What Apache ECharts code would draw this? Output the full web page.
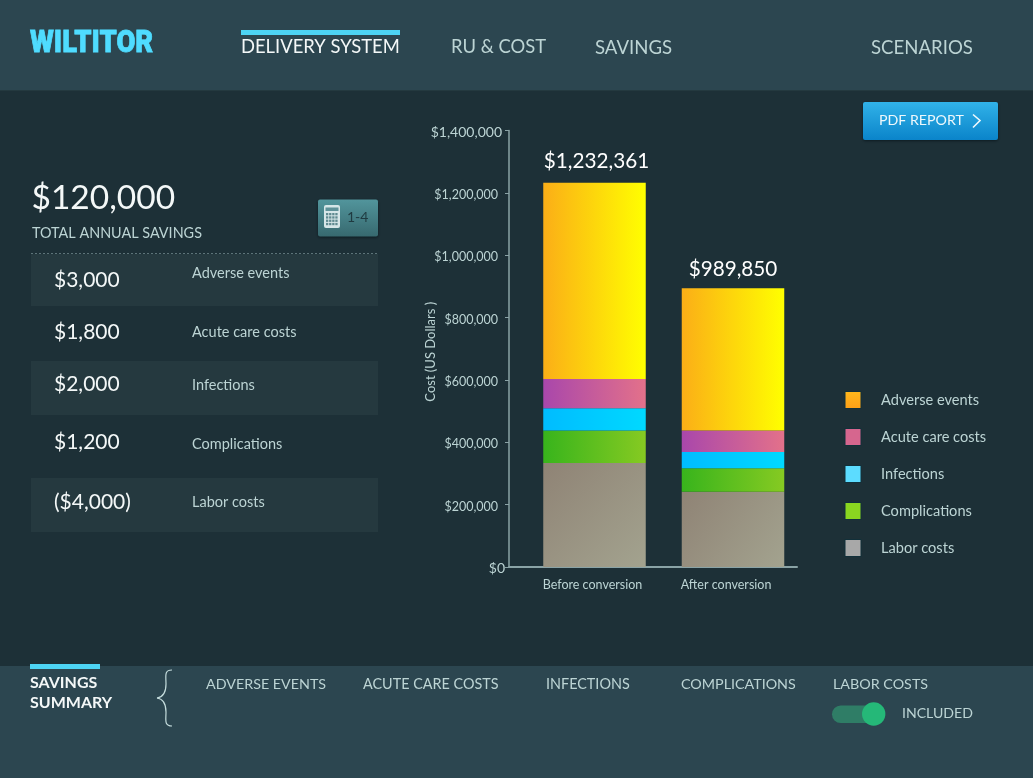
<!DOCTYPE html>
<html><head><meta charset="utf-8">
<style>html,body{margin:0;padding:0;background:#1d3037}#c{width:1033px;height:778px}</style>
<script src="https://cdn.jsdelivr.net/npm/echarts@6/dist/echarts.min.js"></script>
</head><body><div id="c"></div>
<script>
const categories = ['Before conversion', 'After conversion'];
const seriesNames = ['Labor costs', 'Complications', 'Infections', 'Acute care costs', 'Adverse events'];
const laborCosts = [333500, 241500];
const complications = [104500, 75000];
const infections = [71000, 52500];
const acuteCareCosts = [94000, 69000];
const adverseEvents = [629361, 456000];
const totalLabels = ['$1,232,361', '$989,850'];
const yTickLabels = ['$0', '$200,000', '$400,000', '$600,000', '$800,000', '$1,000,000', '$1,200,000', '$1,400,000'];
const legendOrder = ['Adverse events', 'Acute care costs', 'Infections', 'Complications', 'Labor costs'];
const savingsAmounts = ['$3,000', '$1,800', '$2,000', '$1,200', '($4,000)'];
const savingsLabels = ['Adverse events', 'Acute care costs', 'Infections', 'Complications', 'Labor costs'];
const navItems = ['DELIVERY SYSTEM', 'RU & COST', 'SAVINGS', 'SCENARIOS'];
const tabItems = ['ADVERSE EVENTS', 'ACUTE CARE COSTS', 'INFECTIONS', 'COMPLICATIONS', 'LABOR COSTS'];

const FONT = 'Lato';
const hGrad = (a, b) => new echarts.graphic.LinearGradient(0, 0, 1, 0, [{offset: 0, color: a}, {offset: 1, color: b}]);
const dGrad = (a, b) => new echarts.graphic.LinearGradient(0, 0, 1, 1, [{offset: 0, color: a}, {offset: 1, color: b}]);
const vGrad = (a, b) => new echarts.graphic.LinearGradient(0, 0, 0, 1, [{offset: 0, color: a}, {offset: 1, color: b}]);

const T = (x, y, text, size, fill, o = {}) => ({
  type: 'text', x, y, silent: true, z: 5,
  style: Object.assign({text, fontSize: size, fontFamily: FONT, fill, textAlign: 'left', verticalAlign: 'middle'}, o)
});
const R = (x, y, w, h, fill, o = {}, r = 0) => ({
  type: 'rect', silent: true, z: o.z || 1, shape: {x, y, width: w, height: h, r},
  style: Object.assign({fill}, o.style || {})
});
const B = (x1, y1, cx1, cy1, cx2, cy2, x2, y2) => ({
  type: 'bezierCurve', silent: true, z: 5,
  shape: {x1, y1, cpx1: cx1, cpy1: cy1, cpx2: cx2, cpy2: cy2, x2, y2},
  style: {stroke: '#c4dcdc', lineWidth: 1.2, fill: 'none'}
});

const BLUE = '#4dd4f4', TXT = '#bcd4d4', WHITE = '#f4f8f8';
const graphics = [
  R(0, 0, 1033, 90, '#2c4650'),
  R(0, 90, 1033, 1, '#24393f'),
  R(0, 666, 1033, 112, '#2c4650'),
  // header
  Object.assign(T(30, 44, 'WILTITOR', 31, '#4fdcff', {fontFamily: 'Roboto', fontWeight: 900, stroke: '#4fdcff', lineWidth: 0.8}), {scaleX: 0.885}),
  R(241, 30, 159, 5, BLUE),
  T(241, 47.5, navItems[0], 18.4, WHITE),
  T(451, 47.5, navItems[1], 18.4, TXT),
  T(595, 48, navItems[2], 18.6, TXT),
  T(871, 48, navItems[3], 18.6, TXT),
  // pdf button
  R(863, 102, 135, 38, vGrad('#31b2e8', '#0a84ca'), {z: 2, style: {shadowBlur: 3, shadowColor: '#0c1a20', shadowOffsetY: 1}}, 2),
  T(879, 120, 'PDF REPORT', 14.2, '#eef8fc', {}),
  {type: 'polyline', silent: true, z: 5, shape: {points: [[973, 114.5], [980, 120.5], [973, 127.5]]}, style: {stroke: '#eef8fc', lineWidth: 1.6, fill: 'none'}},
  // left panel
  T(31.5, 198, '$120,000', 33.5, WHITE),
  T(32, 233, 'TOTAL ANNUAL SAVINGS', 14.4, TXT),
  R(318, 199.5, 60, 37, vGrad('#52959c', '#37696f'), {z: 2, style: {shadowBlur: 3, shadowColor: '#0c1a20', shadowOffsetY: 1}}, 2),
  R(324, 205, 16, 23, '#d6e6e8', {z: 3}, 2),
  R(325.5, 207.5, 13, 3.5, '#5f9299', {z: 4}),
  T(347, 217, '1-4', 14, '#1f3a40'),
  R(31, 254, 347, 52, '#25393f'),
  R(31, 361, 347, 54, '#25393f'),
  R(31, 478, 347, 54, '#25393f'),
  {type: 'line', silent: true, z: 2, shape: {x1: 31, y1: 253.5, x2: 378, y2: 253.5}, style: {stroke: '#5d7479', lineWidth: 1, lineDash: [2, 2]}},
  // bottom bar
  R(30, 664, 70, 5, BLUE),
  T(30, 683, 'SAVINGS', 16, WHITE, {fontWeight: 700}),
  T(30, 703, 'SUMMARY', 16, WHITE, {fontWeight: 700}),
  B(172, 670, 164, 670, 166, 676, 166, 684),
  B(166, 684, 166, 692, 164, 697, 157, 698),
  B(157, 698, 164, 699, 166, 704, 166, 712),
  B(166, 712, 166, 720, 164, 726, 172, 726),
  T(206, 684, tabItems[0], 14.3, TXT),
  T(363, 684, tabItems[1], 14.4, TXT),
  T(546, 684, tabItems[2], 14.4, TXT),
  T(681, 684, tabItems[3], 14.3, TXT),
  T(833, 684, tabItems[4], 14.3, TXT),
  R(832, 705.5, 46, 17.5, '#2f7d66', {z: 2}, 8.7),
  {type: 'circle', silent: true, z: 3, shape: {cx: 873.7, cy: 714, r: 11.7}, style: {fill: '#25b878'}},
  T(902, 713, 'INCLUDED', 14.1, TXT)
];

// calculator keypad dots
for (let r = 0; r < 4; r++) for (let c = 0; c < 4; c++) graphics.push(R(326 + c * 3.1, 213 + r * 3.3, 2.3, 2.3, '#5f8a90', {z: 4}));

const rowY = [280, 332, 384, 442, 502];
const rowLabelY = [273, 332, 385, 444, 502];
savingsAmounts.forEach((s, i) => {
  graphics.push(T(54, rowY[i], s, 21, WHITE));
  graphics.push(T(192, rowLabelY[i], savingsLabels[i], 14.5, TXT));
});

const SERIES_STYLE = {
  'Labor costs': dGrad('#8f8375', '#a3a38f'),
  'Complications': hGrad('#38b41c', '#86ca22'),
  'Infections': hGrad('#00bcff', '#00d9ff'),
  'Acute care costs': hGrad('#a947ab', '#e3718a'),
  'Adverse events': hGrad('#fbae17', '#ffff00')
};
const LEGEND_COLOR = {
  'Adverse events': vGrad('#ffb81c', '#fd9f17'), 'Acute care costs': '#d6668e', 'Infections': '#5cdcff',
  'Complications': '#8ad620', 'Labor costs': '#a8a8a8'
};
const seriesData = [laborCosts, complications, infections, acuteCareCosts, adverseEvents];
const labelDistance = [11, 8];
const labelPadding = [[0, 0, 0, 4], [0, 0, 0, 0]];

const series = seriesNames.map((name, k) => ({
  name, type: 'bar', stack: 'cost', xAxisIndex: 0, yAxisIndex: 0, barWidth: 102.5,
  data: seriesData[k].map((value, i) => k === 4 ? {value, label: {distance: labelDistance[i], padding: labelPadding[i]}} : value),
  itemStyle: {color: SERIES_STYLE[name]},
  emphasis: {disabled: true},
  label: k === 4 ? {
    show: true, position: 'top', color: '#ffffff', fontSize: 20.7, fontFamily: FONT,
    formatter: p => totalLabels[p.dataIndex]
  } : {show: false}
}));

const chart = echarts.init(document.getElementById('c'), null, {renderer: 'canvas'});
chart.setOption({
  animation: false,
  backgroundColor: '#1d3037',
  textStyle: {fontFamily: FONT},
  graphic: graphics,
  grid: [
    {left: 525.25, width: 277, top: 130.5, height: 436.5},
    {left: 509, width: 288, top: 130.5, height: 436.5}
  ],
  xAxis: [
    {type: 'category', gridIndex: 0, data: categories, axisLine: {show: false}, axisTick: {show: false},
     axisLabel: {interval: 0, hideOverlap: false, margin: 11, fontSize: 12.5, fontFamily: FONT, color: TXT,
       formatter: (v, i) => i === 1 ? '{b|' + v + '}' : '{a|' + v + '}',
       rich: {a: {fontSize: 12.5, color: TXT, fontFamily: FONT, padding: [0, 4, 0, 0]}, b: {fontSize: 12.5, color: TXT, fontFamily: FONT, padding: [0, 14, 0, 0]}}}},
    {type: 'value', gridIndex: 1, min: 0, max: 1, axisTick: {show: false}, axisLabel: {show: false}, splitLine: {show: false},
     axisLine: {show: true, onZero: false, lineStyle: {color: '#8aa3a6', width: 2}}}
  ],
  yAxis: [
    {type: 'value', gridIndex: 0, min: 0, max: 1400000, interval: 200000, show: false},
    {type: 'value', gridIndex: 1, min: 0, max: 1400000, interval: 200000, splitLine: {show: false},
     name: 'Cost (US Dollars )', nameLocation: 'middle', nameGap: 72, nameRotate: 90, nameMoveOverlap: false,
     nameTextStyle: {fontSize: 13, color: TXT, fontFamily: FONT, padding: [0, 6, 0, 0]},
     axisLine: {show: true, lineStyle: {color: '#8aa3a6', width: 1.5}},
     axisTick: {show: true, length: 4, lineStyle: {color: '#8aa3a6', width: 1}},
     axisLabel: {margin: 4, color: TXT, fontFamily: FONT,
       formatter: (v) => {
         const s = yTickLabels[Math.round(v / 200000)];
         if (v === 0) return '{e|' + s + '}';
         if (v === 1400000) return '{t|' + s + '}';
         return '{m|' + s + '}';
       },
       rich: {
         e: {fontSize: 14, color: TXT, fontFamily: FONT, padding: [2, 0, 0, 0]},
         t: {fontSize: 14, color: TXT, fontFamily: FONT, padding: [3, 3, 0, 0]},
         m: {fontSize: 12.5, color: TXT, fontFamily: FONT, padding: [4, 7, 0, 0]}
       }}}
  ],
  legend: {
    orient: 'vertical', left: 844.5, top: 391, padding: 0, itemWidth: 16, itemHeight: 17, itemGap: 19, selectedMode: false,
    icon: 'rect',
    textStyle: {color: TXT, fontSize: 14.6, fontFamily: FONT, padding: [0, 0, 0, 15]},
    data: legendOrder.map(name => ({name, itemStyle: {color: LEGEND_COLOR[name], borderColor: '#12303a', borderWidth: 1}}))
  },
  series
});
</script></body></html>
